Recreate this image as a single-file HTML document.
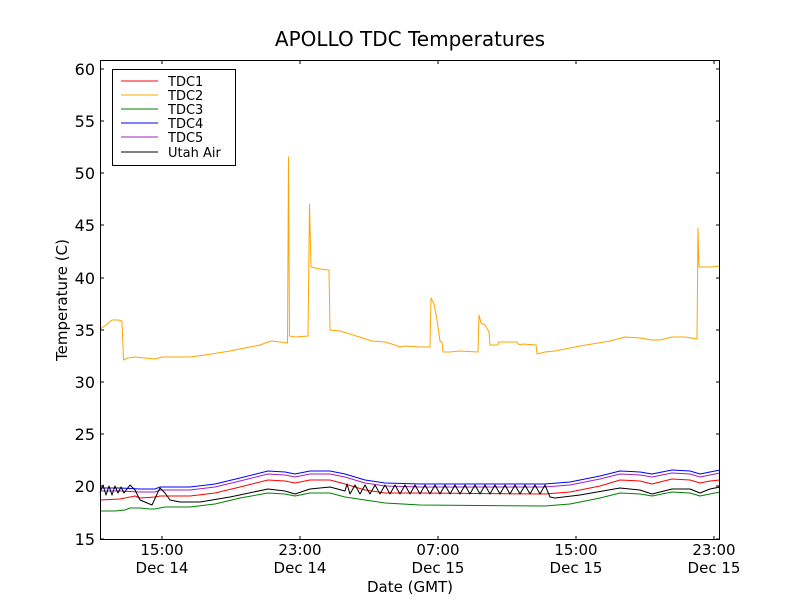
<!DOCTYPE html>
<html><head><meta charset="utf-8"><style>body{margin:0;background:#fff}svg{display:block}text{font-family:"DejaVu Sans","Liberation Sans",sans-serif}</style></head><body>
<svg width="800" height="600" viewBox="0 0 800 600">
<rect width="800" height="600" fill="#fff"/>
<text x="410" y="46" font-size="20" text-anchor="middle">APOLLO TDC Temperatures</text>
<g fill="none" stroke-width="1" stroke-linejoin="round">
<polyline stroke="#ffa500" points="100,329 106,325 112,320 118,320 122,321 123.5,360 128,358 135,357 145,358 155,359 162,357 175,357 190,357 205,355 230,351 260,345 271,341 280,342 287.5,343 288.5,157 289.5,336 295,337 308,336 309.5,204 311,267 320,269 329,270 330,330 340,331 350,334 372,341 385,342 395,345 400,347 405,346 420,347 430,347 431,298 434,304 437,320 440,341 442,342 443,352 450,352 460,351 478,352 479,315 481,323 485,325 489,332 490,345 498,345 499,342 517,342 518,344 521,345 523,344 536,345 537,354 545,352 555,351 580,346 610,341 625,337 640,338 652,340 660,340 672,337 685,337 697,339 698,228 699,267 710,267 720,266"/>
<polyline stroke="#0000ff" points="100,488 120,488 140,489 155,489 160,487 190,487 215,484 240,478 268,471 285,472 295,474 310,471 330,471 345,474 365,480 385,483 420,484 545,484 570,482 600,476 620,471 640,472 652,474 672,470 690,471 700,474 710,472 720,470"/>
<polyline stroke="#a020c0" points="100,491 120,491 140,492 155,492 160,490 190,490 215,487 240,481 268,474 285,475 295,477 310,474 330,474 345,477 365,483 385,486 420,487 545,487 570,485 600,479 620,474 640,475 652,477 672,473 690,474 700,477 710,475 720,473"/>
<polyline stroke="#ff0000" points="100,500 120,499 135,496 140,498 155,497 160,496 190,496 215,493 240,487 268,480 285,481 295,483 310,480 330,480 345,484 365,490 385,493 420,493 545,494 570,492 600,486 620,480 640,481 652,484 672,479 690,480 700,483 710,481 720,480"/>
<polyline stroke="#008000" points="100,511 115,511 125,510 130,508 140,508 150,509 155,509 165,507 190,507 215,504 240,498 268,493 285,494 295,496 310,493 330,493 345,497 365,500 385,503 420,505 545,506 570,504 600,498 620,493 640,494 652,496 672,492 690,493 700,496 710,494 720,492"/>
<polyline stroke="#000" points="100,493 103,485 106,495 109,486 112,495 115,486 118,493 121,487 124,493 130,485 135,490 140,500 152,505 158,492 160,488 165,493 170,500 180,502 200,502 230,497 268,489 285,491 295,494 310,489 330,487 345,491 347,484 350,494 355,485 360,494 365,485 370,494 375,485 380,494 385,485 390,494 395,485 400,494 405,485 410,494 415,485 420,494 425,485 430,494 435,485 440,494 445,485 450,494 455,485 460,494 465,485 470,494 475,485 480,494 485,485 490,494 495,485 500,494 505,485 510,494 515,485 520,494 525,485 530,494 535,485 540,494 545,485 550,497 555,498 580,495 620,488 640,490 652,494 672,489 690,489 700,493 710,489 720,487"/>
</g>
<rect x="100.5" y="60.5" width="619" height="479" fill="none" stroke="#000"/>
<g stroke="#000">
<path d="M100,539h4M720,539h-4M100,486h4M720,486h-4M100,434h4M720,434h-4M100,382h4M720,382h-4M100,330h4M720,330h-4M100,278h4M720,278h-4M100,225h4M720,225h-4M100,173h4M720,173h-4M100,121h4M720,121h-4M100,69h4M720,69h-4"/>
<path d="M162,540v-4M162,60v4M300,540v-4M300,60v4M438,540v-4M438,60v4M576,540v-4M576,60v4M714,540v-4M714,60v4"/>
</g>
<g font-size="16" text-anchor="end">
<text x="95" y="545">15</text><text x="95" y="492">20</text><text x="95" y="440">25</text><text x="95" y="388">30</text><text x="95" y="336">35</text><text x="95" y="284">40</text><text x="95" y="231">45</text><text x="95" y="179">50</text><text x="95" y="127">55</text><text x="95" y="75">60</text>
</g>
<g font-size="15" text-anchor="middle">
<text x="162" y="555">15:00</text><text x="162" y="573">Dec 14</text>
<text x="300" y="555">23:00</text><text x="300" y="573">Dec 14</text>
<text x="438" y="555">07:00</text><text x="438" y="573">Dec 15</text>
<text x="576" y="555">15:00</text><text x="576" y="573">Dec 15</text>
<text x="714" y="555">23:00</text><text x="714" y="573">Dec 15</text>
<text x="410" y="592">Date (GMT)</text>
</g>
<text transform="translate(67,300) rotate(-90)" font-size="15" text-anchor="middle">Temperature (C)</text>
<rect x="112.5" y="69.5" width="123" height="96" fill="#fff" stroke="#000"/>
<g stroke-width="1">
<line x1="121" x2="158" y1="81" y2="81" stroke="#ff0000"/>
<line x1="121" x2="158" y1="95" y2="95" stroke="#ffa500"/>
<line x1="121" x2="158" y1="109" y2="109" stroke="#008000"/>
<line x1="121" x2="158" y1="123" y2="123" stroke="#0000ff"/>
<line x1="121" x2="158" y1="137" y2="137" stroke="#a020c0"/>
<line x1="121" x2="158" y1="152" y2="152" stroke="#000"/>
</g>
<g font-size="13">
<text x="168" y="86">TDC1</text><text x="168" y="100">TDC2</text><text x="168" y="114">TDC3</text><text x="168" y="128">TDC4</text><text x="168" y="142">TDC5</text><text x="168" y="157">Utah Air</text>
</g>
</svg>
</body></html>
